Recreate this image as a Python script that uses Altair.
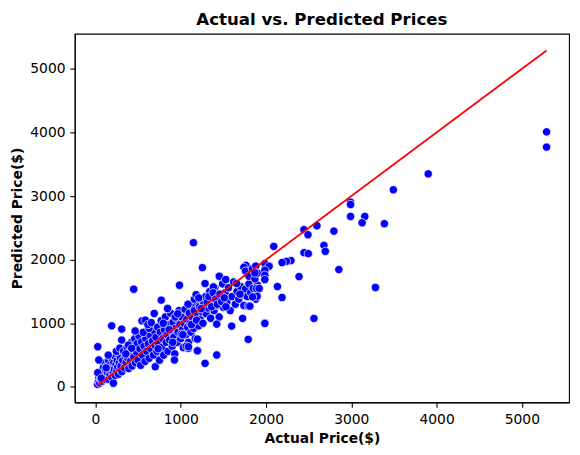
import altair as alt
import pandas as pd

# Actual vs predicted prices
actual = [
    25, 35, 40, 50, 55, 60, 70, 75, 80, 90, 95, 100, 110, 115, 120, 130, 135, 140, 150, 155,
    160, 170, 175, 180, 190, 195, 200, 210, 215, 220, 230, 235, 240, 250, 255, 260, 270, 275,
    280, 290, 295, 300, 27, 39, 27, 210, 190, 307, 307, 150, 67, 125, 245, 285,
    310, 320, 330, 340, 350, 360, 370, 380, 390, 400, 410, 420, 430, 440, 450, 460, 470, 480,
    490, 500, 510, 520, 530, 540, 550, 560, 570, 580, 590, 600, 610, 620, 630, 640, 650, 660,
    670, 680, 690, 700, 386, 424, 561, 627, 545, 584, 689, 448, 701, 771, 465, 355, 615, 655,
    710, 720, 730, 740, 750, 760, 770, 780, 790, 800, 810, 820, 830, 840, 850, 860, 870, 880,
    890, 900, 910, 920, 930, 940, 950, 960, 970, 980, 990, 1000, 1010, 1020, 1030, 1040, 1050,
    1060, 1070, 1080, 1090, 1100, 1110, 1120, 1130, 1140, 1150, 1160, 1170, 1180, 1190, 1200,
    1210, 1220, 1230, 1240, 1250, 771, 849, 926, 1090, 1200, 1200, 1285, 1149, 985, 845,
    735, 795, 865, 935, 1005, 1065, 1125, 1185, 905, 965, 1025, 1085,
    1260, 1270, 1290, 1300, 1320, 1340, 1350, 1370, 1390, 1400, 1420, 1440, 1450, 1470, 1490,
    1500, 1520, 1540, 1560, 1580, 1600, 1620, 1640, 1660, 1680, 1700, 1720, 1740, 1760, 1780,
    1800, 1820, 1850, 1880, 1900, 1254, 1452, 1527, 1285, 1382, 1764, 1803, 1655, 1694, 1791,
    1725, 1597, 1422, 1791, 1422, 1195, 1195, 1090, 1986, 1160, 1180, 1210, 1240, 1310, 1330,
    1360, 1380, 1410, 1430, 1460, 1480, 1510, 1530, 1740, 1760, 1800, 1840, 1870, 1880, 1900,
    1986, 2036, 1986, 1986, 1986, 1869, 1889, 1920, 1896, 1842, 1811, 1986,
    2991, 2991, 2991, 3158, 3127, 2445, 2492, 2597, 2796, 2091, 2679, 2695, 2445, 2496, 2293,
    2239, 2188, 2854, 2387, 2134, 2188, 3283, 2562, 3902, 3493, 3388, 5290, 5290,
]
predicted = [
    40, 90, 150, 60, 220, 130, 180, 90, 260, 150, 310, 210, 120, 380, 260, 170, 330, 230, 120, 410,
    290, 200, 350, 260, 150, 440, 320, 230, 380, 280, 180, 470, 350, 260, 420, 310, 200, 500,
    380, 270, 450, 330, 632, 423, 224, 58, 961, 909, 737, 500, 136, 300, 560, 610,
    240, 420, 560, 300, 480, 380, 620, 450, 290, 540, 400, 700, 330, 600, 470, 760, 380, 550,
    680, 420, 800, 600, 340, 710, 500, 860, 640, 400, 760, 560, 900, 680, 450, 820, 600, 960,
    720, 500, 880, 650, 658, 607, 857, 920, 1039, 1050, 1155, 1536, 318, 475, 880, 520, 980, 1010,
    780, 560, 940, 680, 420, 860, 1040, 620, 760, 500, 900, 1100, 700, 820, 560, 980, 740, 1160,
    880, 640, 1020, 780, 520, 920, 1080, 700, 860, 1200, 980, 760, 1100, 900, 620, 1000, 1220,
    820, 1060, 940, 700, 1160, 1000, 860, 1280, 1080, 920, 1200, 760, 1040, 1340, 1120,
    960, 1260, 1060, 1380, 1180, 1364, 1233, 423, 606, 569, 748, 371, 2268, 1599, 1233,
    600, 1000, 900, 1100, 830, 640, 980, 1050, 700, 1150, 820, 1300,
    1000, 1300, 1420, 1150, 1240, 1500, 1080, 1350, 1200, 1560, 1280, 1440, 1100, 1380, 1620,
    1250, 1480, 1330, 1560, 1200, 1420, 1650, 1300, 1500, 1380, 1580, 1450, 1280, 1540, 1420,
    1620, 1480, 1550, 1380, 1600, 1876, 1740, 1688, 1625, 1572, 1912, 1807, 1625, 1458, 1270,
    1077, 956, 987, 748, 502, 752, 569, 632, 1008, 1380, 1450, 1400, 1230, 1330, 1420,
    1260, 1480, 1380, 1300, 1460, 1340, 1400, 1260, 1880, 1820, 1740, 1860, 1700, 1900, 1790,
    1939, 1897, 1834, 1755, 1688, 1792, 1547, 1547, 1426, 1415, 1270, 998,
    2904, 2868, 2680, 2680, 2581, 2472, 2393, 2534, 2450, 2210, 2226, 2132, 2111, 2095, 1986,
    1975, 1955, 1845, 1735, 1578, 1406, 1563, 1077, 3349, 3099, 2566, 4010, 3770,
]

tick_values = [0, 1000, 2000, 3000, 4000, 5000]

df = pd.DataFrame({"actual": actual, "predicted": predicted})
lo, hi = min(actual), max(actual)
line_df = pd.DataFrame({"actual": [lo, hi], "predicted": [lo, hi]})

xscale = alt.Scale(domain=[-243, 5553], nice=False, zero=False)
yscale = alt.Scale(domain=[-243, 5553], nice=False, zero=False)

points = alt.Chart(df).mark_circle(
    size=70, color="#0000ff", opacity=1, stroke="white", strokeWidth=0.7
).encode(
    x=alt.X("actual:Q", scale=xscale,
            axis=alt.Axis(values=tick_values, format="d", title="Actual Price($)")),
    y=alt.Y("predicted:Q", scale=yscale,
            axis=alt.Axis(values=tick_values, format="d", title="Predicted Price($)")),
)

line = alt.Chart(line_df).mark_line(color="#ff0000", strokeWidth=1.8).encode(
    x=alt.X("actual:Q", scale=xscale),
    y=alt.Y("predicted:Q", scale=yscale),
)

chart = alt.layer(points, line).properties(
    width=496,
    height=370,
    padding={"left": 2, "top": 3, "right": 3, "bottom": 5},
    title=alt.TitleParams(
        "Actual vs. Predicted Prices",
        font="DejaVu Sans", fontSize=16.7, fontWeight="bold",
        color="black", offset=5, anchor="middle",
    ),
).configure_view(
    stroke="black", strokeWidth=1.1
).configure_axis(
    grid=False,
    labelFont="DejaVu Sans", labelFontSize=13.9, labelColor="black",
    titleFont="DejaVu Sans", titleFontSize=13.9, titleFontWeight="bold", titleColor="black",
    tickColor="black", tickSize=4.9, tickWidth=1.1,
    domainColor="black", domainWidth=1.1,
    labelPadding=4.9, titlePadding=5.6,
)

chart.save("out.html", embed_options={"renderer": "svg", "actions": False})
